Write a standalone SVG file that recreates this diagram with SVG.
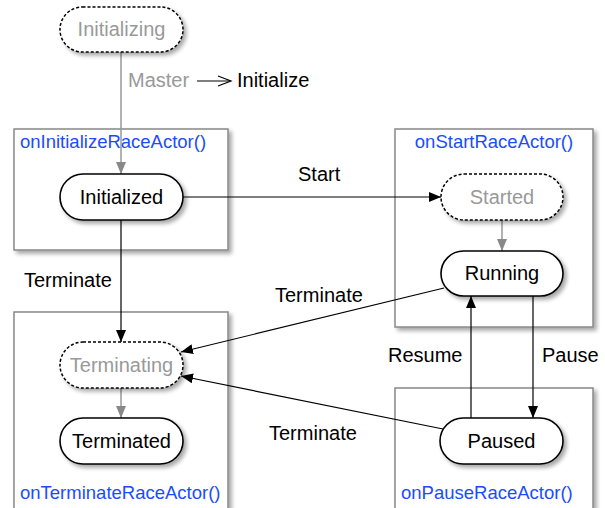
<svg xmlns="http://www.w3.org/2000/svg" width="605" height="508" viewBox="0 0 605 508">
  <style>
    text { font-family: "Liberation Sans", Arial, sans-serif; }
    .box { fill: #ffffff; stroke: #888888; stroke-width: 1.5; filter: url(#shadow); }
    .state { fill: #ffffff; stroke: #000000; stroke-width: 1.6; filter: url(#shadow); }
    .pseudo { fill: #ffffff; stroke: #000000; stroke-width: 1.5; stroke-dasharray: 3 2; filter: url(#shadow); }
    .lbl { font-size: 20px; fill: #000000; text-anchor: middle; }
    .glbl { font-size: 20px; fill: #999999; text-anchor: middle; }
    .fn { font-size: 18.5px; fill: #1a4cff; }
    .edge { fill: none; stroke: #000000; stroke-width: 1.2; marker-end: url(#arrow); }
    .gedge { fill: none; stroke: #999999; stroke-width: 1.5; marker-end: url(#garrow); }
    .elbl { font-size: 20px; fill: #000000; }
  </style>
  <defs>
    <filter id="shadow" x="-20%" y="-20%" width="150%" height="160%">
      <feGaussianBlur in="SourceAlpha" stdDeviation="2"/>
      <feOffset dx="3" dy="3" result="b"/>
      <feComponentTransfer><feFuncA type="linear" slope="0.35"/></feComponentTransfer>
      <feMerge><feMergeNode/><feMergeNode in="SourceGraphic"/></feMerge>
    </filter>
    <marker id="arrow" viewBox="0 0 12 10" refX="12" refY="5" markerWidth="12" markerHeight="10" markerUnits="userSpaceOnUse" orient="auto">
      <path d="M0,0 L12,5 L0,10 Z" fill="#000000"/>
    </marker>
    <marker id="garrow" viewBox="0 0 12 10" refX="12" refY="5" markerWidth="12" markerHeight="10" markerUnits="userSpaceOnUse" orient="auto">
      <path d="M0,0 L12,5 L0,10 Z" fill="#888888"/>
    </marker>
  </defs>

  <!-- lifecycle method boxes -->
  <g id="box-initialize">
    <rect class="box" x="14" y="129" width="214" height="121"/>
    <text class="fn" x="20" y="148">onInitializeRaceActor()</text>
  </g>
  <g id="box-start">
    <rect class="box" x="395" y="129" width="198" height="198"/>
    <text class="fn" x="494" y="148" text-anchor="middle">onStartRaceActor()</text>
  </g>
  <g id="box-terminate">
    <rect class="box" x="14" y="312" width="214" height="210"/>
    <text class="fn" x="20" y="499">onTerminateRaceActor()</text>
  </g>
  <g id="box-pause">
    <rect class="box" x="395" y="388" width="198" height="134"/>
    <text class="fn" x="401" y="499">onPauseRaceActor()</text>
  </g>

  <!-- connectors -->
  <g id="connectors">
    <line class="gedge" x1="121" y1="52" x2="121" y2="174"/>
    <line class="gedge" x1="502" y1="220" x2="502" y2="251"/>
    <line class="gedge" x1="121" y1="388" x2="121" y2="418"/>
    <line class="edge" x1="183" y1="197" x2="441" y2="197"/>
    <line class="edge" x1="121" y1="220" x2="121" y2="342"/>
    <line class="edge" x1="444" y1="288" x2="181" y2="352"/>
    <line class="edge" x1="443" y1="429" x2="181" y2="376"/>
    <line class="edge" x1="533" y1="296" x2="533" y2="418"/>
    <line class="edge" x1="471" y1="418" x2="471" y2="296"/>
    <text class="elbl" x="298" y="181">Start</text>
    <text class="elbl" x="24" y="287">Terminate</text>
    <text class="elbl" x="275" y="302">Terminate</text>
    <text class="elbl" x="269" y="440">Terminate</text>
    <text class="elbl" x="388" y="362">Resume</text>
    <text class="elbl" x="542" y="362">Pause</text>
    <text x="128" y="87" font-size="20" fill="#999999">Master</text>
    <line x1="197" y1="81" x2="230" y2="81" stroke="#000000" stroke-width="1.2"/>
    <path d="M218,76 L231,81 L218,86" fill="none" stroke="#000000" stroke-width="1.2"/>
    <text class="elbl" x="237" y="87">Initialize</text>
  </g>

  <!-- states -->
  <g id="initializing">
    <rect class="pseudo" x="60" y="7" width="123" height="45" rx="22.5"/>
    <text class="glbl" x="121.5" y="36">Initializing</text>
  </g>
  <g id="initialized">
    <rect class="state" x="60" y="174" width="123" height="46" rx="23"/>
    <text class="lbl" x="121.5" y="204">Initialized</text>
  </g>
  <g id="started">
    <rect class="pseudo" x="441" y="174" width="122" height="46" rx="23"/>
    <text class="glbl" x="502" y="204">Started</text>
  </g>
  <g id="running">
    <rect class="state" x="441" y="251" width="122" height="45" rx="22.5"/>
    <text class="lbl" x="502" y="280">Running</text>
  </g>
  <g id="terminating">
    <rect class="pseudo" x="60" y="342" width="123" height="46" rx="23"/>
    <text class="glbl" x="121.5" y="372">Terminating</text>
  </g>
  <g id="terminated">
    <rect class="state" x="60" y="418" width="123" height="46" rx="23"/>
    <text class="lbl" x="121.5" y="448">Terminated</text>
  </g>
  <g id="paused">
    <rect class="state" x="440" y="418" width="123" height="46" rx="23"/>
    <text class="lbl" x="501.5" y="448">Paused</text>
  </g>
</svg>
